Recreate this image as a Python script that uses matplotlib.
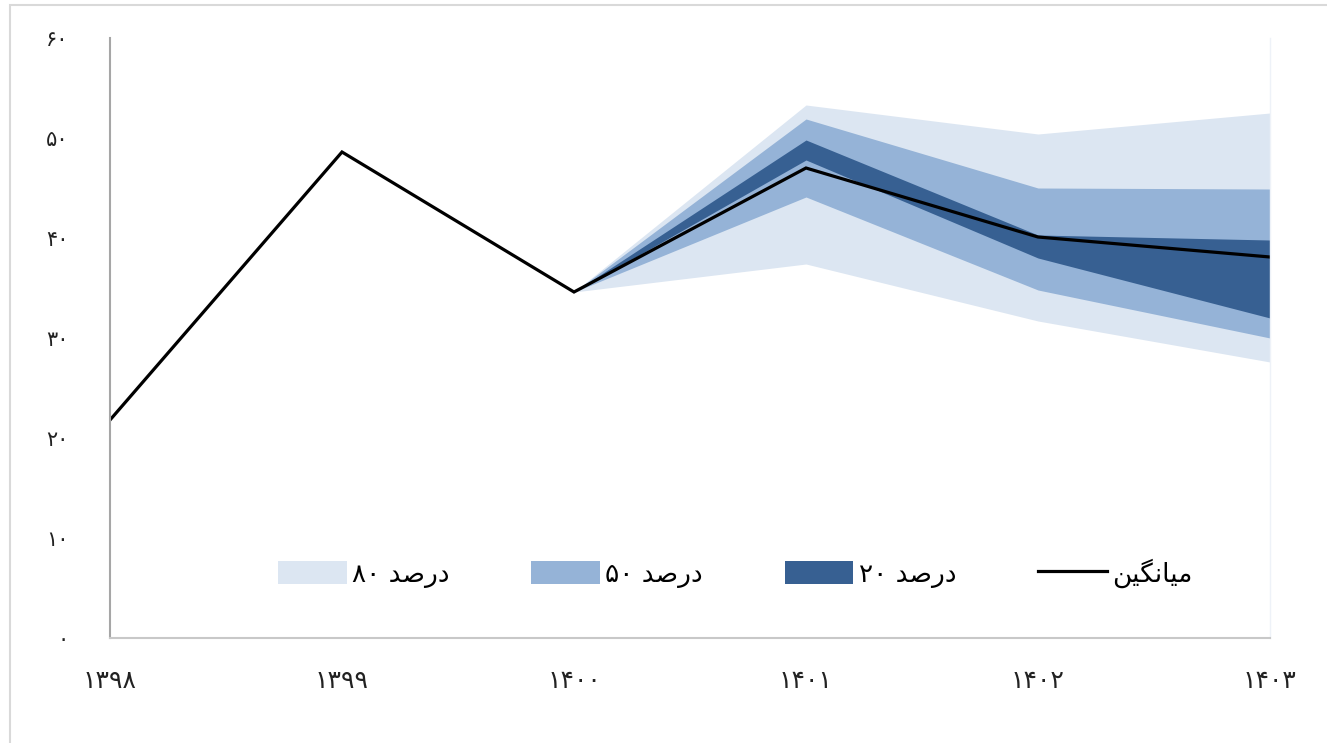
import matplotlib
matplotlib.use('Agg')
import matplotlib.pyplot as plt
from matplotlib.patches import Patch, Rectangle
from matplotlib.lines import Line2D

plt.rcParams['font.family'] = ['DejaVu Sans']

# سال‌ها و مقادیر
years = ['۱۳۹۸', '۱۳۹۹', '۱۴۰۰', '۱۴۰۱', '۱۴۰۲', '۱۴۰۳']
mean = [21.8, 48.6, 34.6, 47.0, 40.1, 38.1]

# بازه‌های پیش‌بینی از ۱۴۰۰ تا ۱۴۰۳
band_idx = [2, 3, 4, 5]
b80_lo = [34.6, 37.4, 31.7, 27.6]
b80_hi = [34.6, 53.3, 50.4, 52.5]
b50_lo = [34.6, 44.1, 34.8, 30.0]
b50_hi = [34.6, 51.9, 45.0, 44.9]
b20_lo = [34.6, 47.8, 38.0, 32.0]
b20_hi = [34.6, 49.8, 40.3, 39.8]

yticks = [0, 10, 20, 30, 40, 50, 60]
ytick_labels = ['۰', '۱۰', '۲۰', '۳۰', '۴۰', '۵۰', '۶۰']

# متن‌ها با شکل‌های نمایشی (ترتیب دیداری چپ به راست)
dars = '\uFEAA\uFEBB\uFEAD\uFEA9'  # درصد
lbl80 = '۸۰ ' + dars
lbl50 = '۵۰ ' + dars
lbl20 = '۲۰ ' + dars
lbl_mean = '\uFEE6\uFBFF\uFB95\uFEE7\uFE8E\uFBFF\uFEE3'  # میانگین

c80 = '#dce6f2'
c50 = '#95b3d7'
c20 = '#376092'

fig = plt.figure(figsize=(13.27, 7.43), dpi=100)
ax = fig.add_axes([110 / 1327, 105 / 743, 1160 / 1327, 600 / 743])

x = list(range(len(years)))
ax.fill_between(band_idx, b80_lo, b80_hi, color=c80, linewidth=0)
ax.fill_between(band_idx, b50_lo, b50_hi, color=c50, linewidth=0)
ax.fill_between(band_idx, b20_lo, b20_hi, color=c20, linewidth=0)
ax.plot(x, mean, color='black', linewidth=2.3, solid_joinstyle='miter')

ax.set_xlim(0, 5)
ax.set_ylim(0, 60)
ax.set_xticks(x)
ax.set_xticklabels(years, fontsize=18, color='#222222')
ax.set_yticks(yticks)
ax.set_yticklabels(ytick_labels, fontsize=15, color='#222222')
ax.tick_params(axis='x', length=0, pad=22)
ax.tick_params(axis='y', length=0, pad=30)

ax.spines['top'].set_visible(False)
ax.spines['left'].set_color('#a6a6a6')
ax.spines['left'].set_linewidth(1.5)
ax.spines['bottom'].set_color('#c8c8c8')
ax.spines['bottom'].set_linewidth(1.5)
ax.spines['right'].set_color('#eef2f8')
ax.spines['right'].set_linewidth(1.0)

handles = [
    Patch(facecolor=c80, edgecolor='none'),
    Patch(facecolor=c50, edgecolor='none'),
    Patch(facecolor=c20, edgecolor='none'),
    Line2D([], [], color='black', linewidth=2.3),
]
ax.legend(handles, [lbl80, lbl50, lbl20, lbl_mean], ncol=4, frameon=False,
          loc='center', bbox_to_anchor=(0.539, 0.108), fontsize=19,
          handlelength=2.6, handleheight=1.0, handletextpad=0.2,
          columnspacing=3.1)

# قاب بیرونی
fig.patches.append(Rectangle((10 / 1327, -0.1), 1.2, 1.1 - 5 / 743,
                             transform=fig.transFigure, fill=False,
                             edgecolor='#d9d9d9', linewidth=1.5))

fig.savefig('out.png', dpi=100)
